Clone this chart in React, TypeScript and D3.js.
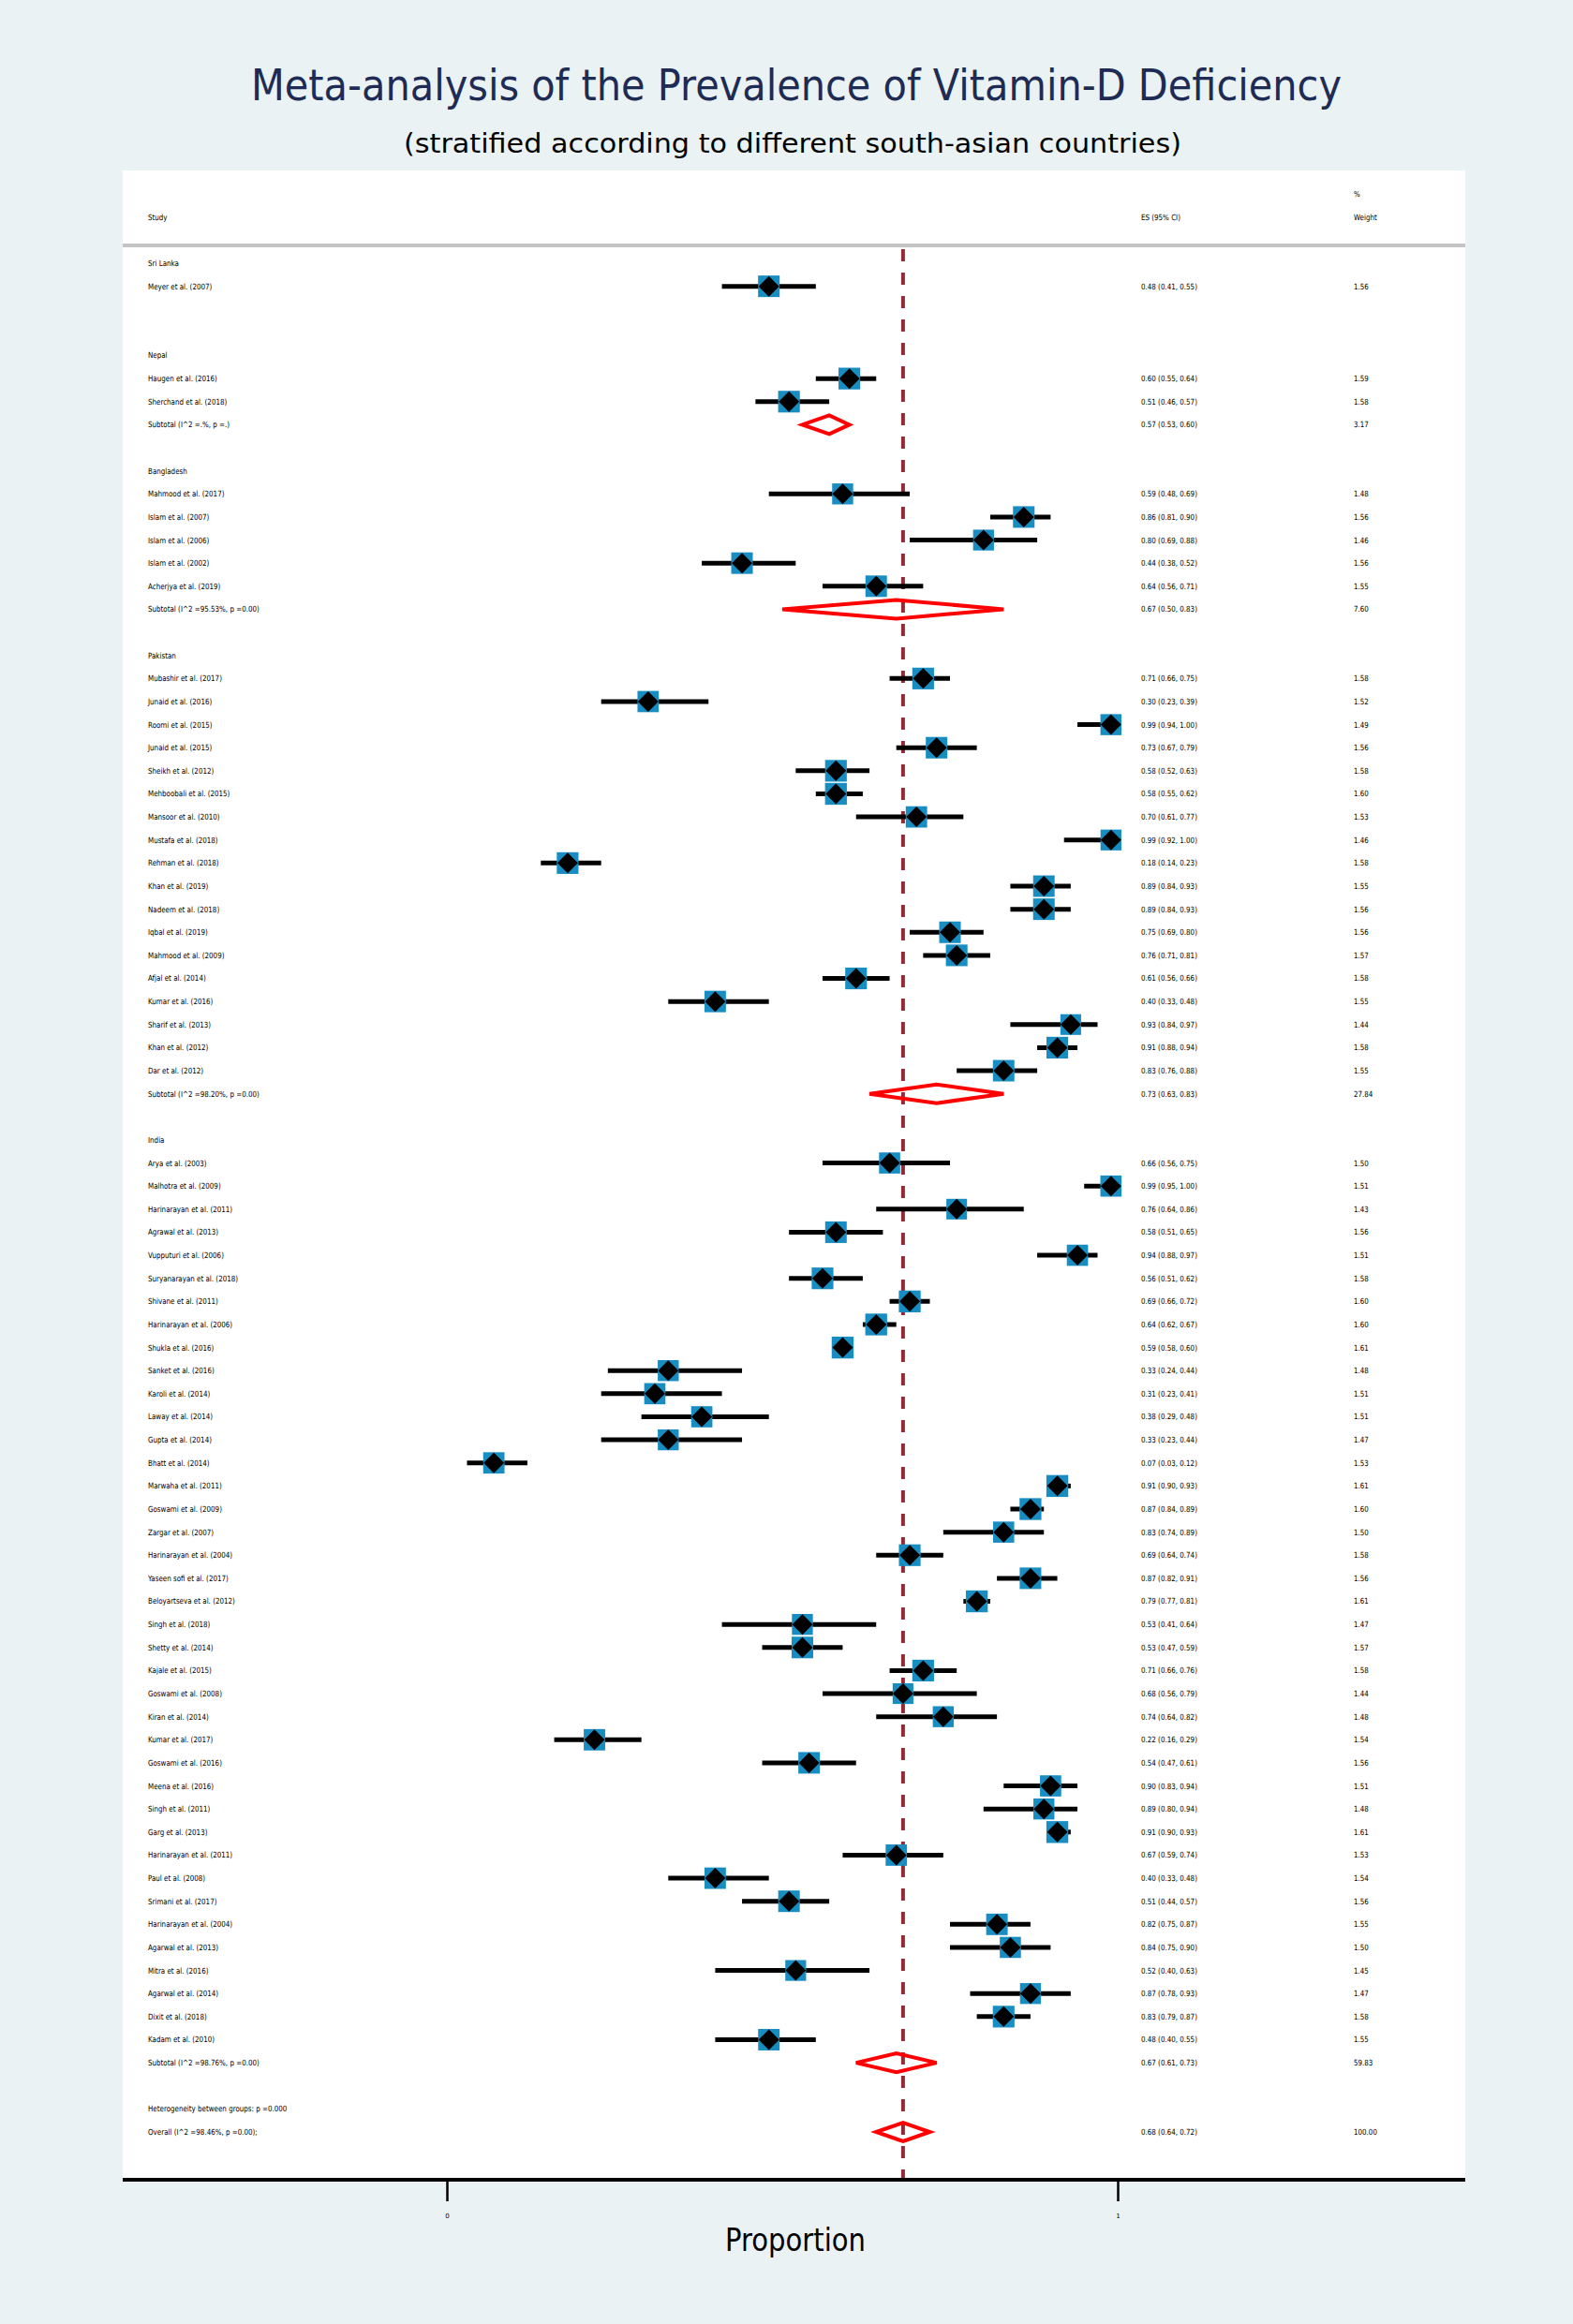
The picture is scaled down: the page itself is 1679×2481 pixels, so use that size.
import React, { useEffect, useRef } from 'react';
import * as d3 from 'd3';

// Study rows per country: label, ES, lower CI, upper CI, % weight
const sriLanka = [
  { study: 'Meyer et al. (2007)', es: 0.48, lci: 0.41, uci: 0.55, weight: 1.56 },
];

const nepal = [
  { study: 'Haugen et al. (2016)', es: 0.60, lci: 0.55, uci: 0.64, weight: 1.59 },
  { study: 'Sherchand et al. (2018)', es: 0.51, lci: 0.46, uci: 0.57, weight: 1.58 },
];

const bangladesh = [
  { study: 'Mahmood et al. (2017)', es: 0.59, lci: 0.48, uci: 0.69, weight: 1.48 },
  { study: 'Islam et al. (2007)', es: 0.86, lci: 0.81, uci: 0.90, weight: 1.56 },
  { study: 'Islam et al. (2006)', es: 0.80, lci: 0.69, uci: 0.88, weight: 1.46 },
  { study: 'Islam et al. (2002)', es: 0.44, lci: 0.38, uci: 0.52, weight: 1.56 },
  { study: 'Acherjya et al. (2019)', es: 0.64, lci: 0.56, uci: 0.71, weight: 1.55 },
];

const pakistan = [
  { study: 'Mubashir et al. (2017)', es: 0.71, lci: 0.66, uci: 0.75, weight: 1.58 },
  { study: 'Junaid et al. (2016)', es: 0.30, lci: 0.23, uci: 0.39, weight: 1.52 },
  { study: 'Roomi et al. (2015)', es: 0.99, lci: 0.94, uci: 1.00, weight: 1.49 },
  { study: 'Junaid et al. (2015)', es: 0.73, lci: 0.67, uci: 0.79, weight: 1.56 },
  { study: 'Sheikh et al. (2012)', es: 0.58, lci: 0.52, uci: 0.63, weight: 1.58 },
  { study: 'Mehboobali et al. (2015)', es: 0.58, lci: 0.55, uci: 0.62, weight: 1.60 },
  { study: 'Mansoor et al. (2010)', es: 0.70, lci: 0.61, uci: 0.77, weight: 1.53 },
  { study: 'Mustafa et al. (2018)', es: 0.99, lci: 0.92, uci: 1.00, weight: 1.46 },
  { study: 'Rehman et al. (2018)', es: 0.18, lci: 0.14, uci: 0.23, weight: 1.58 },
  { study: 'Khan et al. (2019)', es: 0.89, lci: 0.84, uci: 0.93, weight: 1.55 },
  { study: 'Nadeem et al. (2018)', es: 0.89, lci: 0.84, uci: 0.93, weight: 1.56 },
  { study: 'Iqbal et al. (2019)', es: 0.75, lci: 0.69, uci: 0.80, weight: 1.56 },
  { study: 'Mahmood et al. (2009)', es: 0.76, lci: 0.71, uci: 0.81, weight: 1.57 },
  { study: 'Afjal et al. (2014)', es: 0.61, lci: 0.56, uci: 0.66, weight: 1.58 },
  { study: 'Kumar et al. (2016)', es: 0.40, lci: 0.33, uci: 0.48, weight: 1.55 },
  { study: 'Sharif et al. (2013)', es: 0.93, lci: 0.84, uci: 0.97, weight: 1.44 },
  { study: 'Khan et al. (2012)', es: 0.91, lci: 0.88, uci: 0.94, weight: 1.58 },
  { study: 'Dar et al.  (2012)', es: 0.83, lci: 0.76, uci: 0.88, weight: 1.55 },
];

const india = [
  { study: 'Arya et al. (2003)', es: 0.66, lci: 0.56, uci: 0.75, weight: 1.50 },
  { study: 'Malhotra et al. (2009)', es: 0.99, lci: 0.95, uci: 1.00, weight: 1.51 },
  { study: 'Harinarayan et al.  (2011)', es: 0.76, lci: 0.64, uci: 0.86, weight: 1.43 },
  { study: 'Agrawal et al. (2013)', es: 0.58, lci: 0.51, uci: 0.65, weight: 1.56 },
  { study: 'Vupputuri et al. (2006)', es: 0.94, lci: 0.88, uci: 0.97, weight: 1.51 },
  { study: 'Suryanarayan et al. (2018)', es: 0.56, lci: 0.51, uci: 0.62, weight: 1.58 },
  { study: 'Shivane et al. (2011)', es: 0.69, lci: 0.66, uci: 0.72, weight: 1.60 },
  { study: 'Harinarayan et al.  (2006)', es: 0.64, lci: 0.62, uci: 0.67, weight: 1.60 },
  { study: 'Shukla et al. (2016)', es: 0.59, lci: 0.58, uci: 0.60, weight: 1.61 },
  { study: 'Sanket et al. (2016)', es: 0.33, lci: 0.24, uci: 0.44, weight: 1.48 },
  { study: 'Karoli et al. (2014)', es: 0.31, lci: 0.23, uci: 0.41, weight: 1.51 },
  { study: 'Laway et al. (2014)', es: 0.38, lci: 0.29, uci: 0.48, weight: 1.51 },
  { study: 'Gupta et al. (2014)', es: 0.33, lci: 0.23, uci: 0.44, weight: 1.47 },
  { study: 'Bhatt et al. (2014)', es: 0.07, lci: 0.03, uci: 0.12, weight: 1.53 },
  { study: 'Marwaha et al. (2011)', es: 0.91, lci: 0.90, uci: 0.93, weight: 1.61 },
  { study: 'Goswami et al. (2009)', es: 0.87, lci: 0.84, uci: 0.89, weight: 1.60 },
  { study: 'Zargar et al. (2007)', es: 0.83, lci: 0.74, uci: 0.89, weight: 1.50 },
  { study: 'Harinarayan et al.  (2004)', es: 0.69, lci: 0.64, uci: 0.74, weight: 1.58 },
  { study: 'Yaseen sofi et al. (2017)', es: 0.87, lci: 0.82, uci: 0.91, weight: 1.56 },
  { study: 'Beloyartseva et al. (2012)', es: 0.79, lci: 0.77, uci: 0.81, weight: 1.61 },
  { study: 'Singh et al. (2018)', es: 0.53, lci: 0.41, uci: 0.64, weight: 1.47 },
  { study: 'Shetty et al. (2014)', es: 0.53, lci: 0.47, uci: 0.59, weight: 1.57 },
  { study: 'Kajale et al. (2015)', es: 0.71, lci: 0.66, uci: 0.76, weight: 1.58 },
  { study: 'Goswami et al. (2008)', es: 0.68, lci: 0.56, uci: 0.79, weight: 1.44 },
  { study: 'Kiran et al. (2014)', es: 0.74, lci: 0.64, uci: 0.82, weight: 1.48 },
  { study: 'Kumar et al. (2017)', es: 0.22, lci: 0.16, uci: 0.29, weight: 1.54 },
  { study: 'Goswami et al. (2016)', es: 0.54, lci: 0.47, uci: 0.61, weight: 1.56 },
  { study: 'Meena et al. (2016)', es: 0.90, lci: 0.83, uci: 0.94, weight: 1.51 },
  { study: 'Singh et al. (2011)', es: 0.89, lci: 0.80, uci: 0.94, weight: 1.48 },
  { study: 'Garg et al. (2013)', es: 0.91, lci: 0.90, uci: 0.93, weight: 1.61 },
  { study: 'Harinarayan et al.  (2011)', es: 0.67, lci: 0.59, uci: 0.74, weight: 1.53 },
  { study: 'Paul et al. (2008)', es: 0.40, lci: 0.33, uci: 0.48, weight: 1.54 },
  { study: 'Srimani et al. (2017)', es: 0.51, lci: 0.44, uci: 0.57, weight: 1.56 },
  { study: 'Harinarayan et al.  (2004)', es: 0.82, lci: 0.75, uci: 0.87, weight: 1.55 },
  { study: 'Agarwal et al. (2013)', es: 0.84, lci: 0.75, uci: 0.90, weight: 1.50 },
  { study: 'Mitra et al. (2016)', es: 0.52, lci: 0.40, uci: 0.63, weight: 1.45 },
  { study: 'Agarwal et al. (2014)', es: 0.87, lci: 0.78, uci: 0.93, weight: 1.47 },
  { study: 'Dixit et al. (2018)', es: 0.83, lci: 0.79, uci: 0.87, weight: 1.58 },
  { study: 'Kadam et al. (2010)', es: 0.48, lci: 0.40, uci: 0.55, weight: 1.55 },
];

// pooled estimates per country (Sri Lanka has a single study, no subtotal)
const subtotals = [
  null,
  { label: 'Subtotal  (I^2 =.%, p =.)', es: 0.57, lci: 0.53, uci: 0.60, weight: 3.17 },
  { label: 'Subtotal  (I^2 =95.53%, p =0.00)', es: 0.67, lci: 0.50, uci: 0.83, weight: 7.60 },
  { label: 'Subtotal  (I^2 =98.20%, p =0.00)', es: 0.73, lci: 0.63, uci: 0.83, weight: 27.84 },
  { label: 'Subtotal  (I^2 =98.76%, p =0.00)', es: 0.67, lci: 0.61, uci: 0.73, weight: 59.83 },
];

const countries = ['Sri Lanka', 'Nepal', 'Bangladesh', 'Pakistan', 'India'];
const countryStudies = [sriLanka, nepal, bangladesh, pakistan, india];

const overall = { label: 'Overall  (I^2 =98.46%, p =0.00);', es: 0.68, lci: 0.64, uci: 0.72, weight: 100 };
const heterogeneityNote = 'Heterogeneity between groups: p =0.000';
const xTicks = [0, 1];

const W = 1679;
const H = 2481;

const App = () => {
  const svgRef = useRef(null);

  useEffect(() => {
    if (!svgRef.current) return;
    const svg = d3.select(svgRef.current);
    svg.selectAll('*').remove();

    const f2 = d3.format('.2f');
    const esText = d => `${f2(d.es)} (${f2(d.lci)}, ${f2(d.uci)})`;

    // lay out rows: header, studies, subtotal slot, blank
    const rows = [];
    let r = 0;
    countries.forEach((name, i) => {
      rows.push({ type: 'header', label: name, row: r++ });
      countryStudies[i].forEach(s => rows.push({ type: 'study', label: s.study, ...s, row: r++ }));
      if (subtotals[i]) rows.push({ type: 'subtotal', ...subtotals[i], row: r });
      r += 2;
    });
    rows.push({ type: 'note', label: heterogeneityNote, row: r++ });
    rows.push({ type: 'overall', ...overall, row: r });

    const plot = { left: 131, right: 1564, top: 182, axisY: 2327 };
    const x = d3.scaleLinear().domain([0, 1]).range([477, 1193]);
    const y = d3.scaleLinear().domain([0, r]).range([281, 2276]);
    const box = d3.scaleSqrt().domain([0, 1.56]).range([0, 23]);

    // background
    svg.append('rect').attr('width', W).attr('height', H).attr('fill', '#EAF2F3');
    svg.append('rect')
      .attr('x', plot.left).attr('y', plot.top)
      .attr('width', plot.right - plot.left).attr('height', plot.axisY - plot.top)
      .attr('fill', '#ffffff');

    // titles
    svg.append('text')
      .attr('x', 850).attr('y', 107)
      .attr('text-anchor', 'middle')
      .attr('textLength', 1164).attr('lengthAdjust', 'spacingAndGlyphs')
      .style('font-family', 'DejaVu Sans').style('font-size', '47px')
      .attr('fill', '#1E2B55')
      .text('Meta-analysis of the Prevalence of Vitamin-D Deficiency');

    svg.append('text')
      .attr('x', 846).attr('y', 163)
      .attr('text-anchor', 'middle')
      .attr('textLength', 830).attr('lengthAdjust', 'spacingAndGlyphs')
      .style('font-family', 'DejaVu Sans').style('font-size', '29px')
      .attr('fill', '#000')
      .text('(stratified according to different south-asian countries)');

    const small = (px, py, s) =>
      svg.append('text')
        .attr('transform', `translate(${px},${py}) scale(0.84,1)`)
        .attr('dy', '0.35em')
        .style('font-family', 'DejaVu Sans').style('font-size', '8.5px')
        .attr('fill', '#000')
        .text(s);

    // column headers
    small(1445, 207, '%');
    small(158, 232, 'Study');
    small(1218, 232, 'ES (95% CI)');
    small(1445, 232, 'Weight');

    svg.append('rect')
      .attr('x', plot.left).attr('y', 260)
      .attr('width', plot.right - plot.left).attr('height', 4)
      .attr('fill', '#C4C4C4');

    // overall ES reference line
    svg.append('line')
      .attr('x1', x(overall.es)).attr('x2', x(overall.es))
      .attr('y1', 266).attr('y2', plot.axisY)
      .attr('stroke', '#922B35').attr('stroke-width', 4)
      .attr('stroke-dasharray', '13,12');

    const marks = svg.append('g');

    rows.forEach(d => {
      const cy = y(d.row);
      small(158, cy, d.label);
      if (d.type === 'header' || d.type === 'note') return;

      small(1218, cy, esText(d));
      small(1445, cy, f2(d.weight));

      if (d.type === 'study') {
        marks.append('line')
          .attr('x1', x(d.lci)).attr('x2', x(d.uci))
          .attr('y1', cy).attr('y2', cy)
          .attr('stroke', '#000').attr('stroke-width', 5);
        const s = box(d.weight);
        marks.append('rect')
          .attr('x', x(d.es) - s / 2).attr('y', cy - s / 2)
          .attr('width', s).attr('height', s)
          .attr('fill', '#178DC2');
        const k = 11;
        marks.append('path')
          .attr('d', `M${x(d.es) - k},${cy}L${x(d.es)},${cy - k}L${x(d.es) + k},${cy}L${x(d.es)},${cy + k}Z`)
          .attr('fill', '#000');
      } else {
        const h = 10;
        marks.append('path')
          .attr('d', `M${x(d.lci)},${cy}L${x(d.es)},${cy - h}L${x(d.uci)},${cy}L${x(d.es)},${cy + h}Z`)
          .attr('fill', 'none')
          .attr('stroke', '#FF0000').attr('stroke-width', 4);
      }
    });

    // x axis
    const axis = svg.append('g')
      .attr('transform', `translate(0,${plot.axisY})`)
      .call(d3.axisBottom(x).tickValues(xTicks).tickSize(23).tickPadding(13).tickFormat(d3.format('d')));
    axis.select('.domain').remove();
    axis.selectAll('.tick line').attr('stroke', '#000').attr('stroke-width', 2.5);
    axis.selectAll('.tick text')
      .style('font-family', 'DejaVu Sans').style('font-size', '7px').attr('fill', '#000');

    svg.append('line')
      .attr('x1', plot.left).attr('x2', plot.right)
      .attr('y1', plot.axisY).attr('y2', plot.axisY)
      .attr('stroke', '#000').attr('stroke-width', 4);

    svg.append('text')
      .attr('x', 849).attr('y', 2403)
      .attr('text-anchor', 'middle')
      .attr('textLength', 150).attr('lengthAdjust', 'spacingAndGlyphs')
      .style('font-family', 'DejaVu Sans').style('font-size', '33px')
      .attr('fill', '#000')
      .text('Proportion');
  }, []);

  return (
    <>
      <style>{'body{margin:0}'}</style>
      <svg ref={svgRef} width={W} height={H} style={{ display: 'block' }}></svg>
    </>
  );
};

export default App;
